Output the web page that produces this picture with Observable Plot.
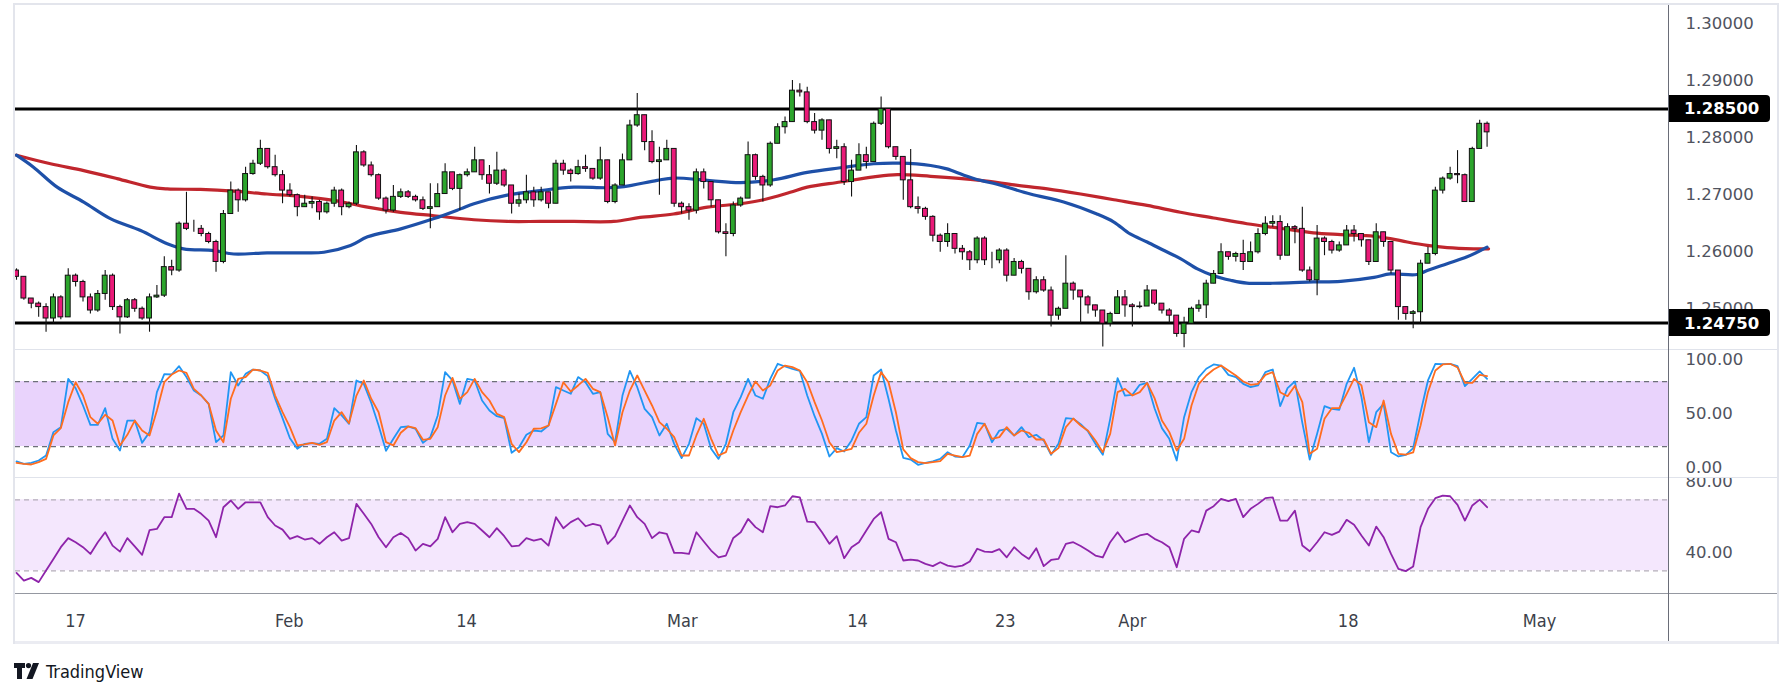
<!DOCTYPE html>
<html><head><meta charset="utf-8">
<script src="https://cdn.jsdelivr.net/npm/d3@7"></script>
<script src="https://cdn.jsdelivr.net/npm/@observablehq/plot@0.6"></script>
<style>
html,body{margin:0;padding:0;background:#fff;width:1791px;height:698px;overflow:hidden;}
#wrap{position:relative;width:1791px;height:698px;}
.pane{position:absolute;left:0;}
.ln{position:absolute;}
#logo{position:absolute;left:14px;top:659px;height:24px;display:flex;align-items:center;gap:6px;
 font-family:"DejaVu Sans Condensed","Liberation Sans Narrow",sans-serif;font-size:18px;color:#131722;}
</style></head><body><div id="wrap"></div>
<script>
// ---------- DATA ----------
const firstOpen = 1.2567;
const closes = [
1.2556,1.2518,1.2509,1.2503,1.2483,1.2520,1.2485,1.2558,1.2547,1.2520,
1.2497,1.2526,1.2558,1.2503,1.2485,1.2515,1.2500,1.2483,1.2520,1.2523,
1.2573,1.2567,1.2649,1.2640,1.2640,1.2631,1.2617,1.2582,1.2666,1.2707,
1.2690,1.2736,1.2754,1.2780,1.2748,1.2734,1.2707,1.2699,1.2678,1.2684,
1.2687,1.2669,1.2684,1.2707,1.2678,1.2684,1.2774,1.2751,1.2734,1.2693,
1.2672,1.2696,1.2704,1.2696,1.2690,1.2675,1.2678,1.2701,1.2739,1.2710,
1.2734,1.2739,1.2760,1.2734,1.2719,1.2742,1.2716,1.2684,1.2690,1.2704,
1.2690,1.2704,1.2684,1.2754,1.2742,1.2736,1.2748,1.2745,1.2728,1.2760,
1.2687,1.2716,1.2760,1.2821,1.2839,1.2792,1.2757,1.2760,1.2780,1.2684,
1.2678,1.2672,1.2739,1.2722,1.2690,1.2634,1.2631,1.2681,1.2693,1.2769,
1.2731,1.2716,1.2789,1.2818,1.2827,1.2882,1.2879,1.2827,1.2812,1.2830,
1.2780,1.2783,1.2722,1.2742,1.2769,1.2757,1.2824,1.2850,1.2783,1.2766,
1.2725,1.2678,1.2675,1.2661,1.2628,1.2617,1.2631,1.2605,1.2599,1.2585,
1.2623,1.2585,1.2585,1.2602,1.2558,1.2582,1.2570,1.2529,1.2550,1.2532,
1.2488,1.2500,1.2544,1.2532,1.2520,1.2506,1.2497,1.2474,1.2491,1.2520,
1.2506,1.2503,1.2504,1.2532,1.2509,1.2497,1.2488,1.2456,1.2474,1.2500,
1.2506,1.2544,1.2561,1.2599,1.2591,1.2596,1.2582,1.2599,1.2631,1.2649,
1.2652,1.2593,1.2643,1.2640,1.2567,1.2550,1.2623,1.2617,1.2602,1.2611,
1.2637,1.2631,1.2620,1.2582,1.2634,1.2617,1.2567,1.2503,1.2491,1.2494,
1.2579,1.2596,1.2707,1.2728,1.2736,1.2734,1.2687,1.2780,1.2824,1.2809];
const highs = [
1.2570,1.2556,1.2518,1.2512,1.2509,1.2526,1.2523,1.2570,1.2561,1.2550,
1.2526,1.2532,1.2567,1.2561,1.2506,1.2518,1.2518,1.2503,1.2526,1.2541,
1.2591,1.2585,1.2652,1.2704,1.2655,1.2646,1.2634,1.2620,1.2672,1.2722,
1.2710,1.2748,1.2760,1.2795,1.2780,1.2769,1.2742,1.2719,1.2701,1.2699,
1.2696,1.2690,1.2687,1.2713,1.2710,1.2687,1.2786,1.2777,1.2757,1.2736,
1.2696,1.2716,1.2710,1.2707,1.2699,1.2696,1.2719,1.2719,1.2754,1.2739,
1.2736,1.2745,1.2783,1.2757,1.2751,1.2774,1.2745,1.2716,1.2701,1.2734,
1.2713,1.2713,1.2701,1.2760,1.2760,1.2745,1.2760,1.2769,1.2745,1.2783,
1.2751,1.2719,1.2771,1.2830,1.2877,1.2824,1.2812,1.2783,1.2795,1.2777,
1.2687,1.2684,1.2745,1.2745,1.2713,1.2678,1.2649,1.2687,1.2696,1.2792,
1.2771,1.2734,1.2792,1.2824,1.2836,1.2900,1.2894,1.2888,1.2842,1.2833,
1.2818,1.2795,1.2789,1.2760,1.2789,1.2783,1.2827,1.2871,1.2847,1.2780,
1.2760,1.2779,1.2696,1.2678,1.2663,1.2631,1.2649,1.2626,1.2611,1.2602,
1.2626,1.2626,1.2599,1.2605,1.2605,1.2588,1.2585,1.2570,1.2556,1.2556,
1.2538,1.2503,1.2593,1.2547,1.2532,1.2523,1.2506,1.2491,1.2494,1.2532,
1.2532,1.2509,1.2512,1.2541,1.2523,1.2506,1.2500,1.2485,1.2485,1.2503,
1.2515,1.2550,1.2567,1.2614,1.2596,1.2599,1.2620,1.2617,1.2640,1.2661,
1.2663,1.2663,1.2649,1.2646,1.2678,1.2573,1.2646,1.2626,1.2620,1.2617,
1.2646,1.2646,1.2628,1.2620,1.2649,1.2631,1.2614,1.2567,1.2503,1.2497,
1.2585,1.2608,1.2713,1.2731,1.2748,1.2777,1.2736,1.2783,1.2830,1.2827];
const lows = [
1.2550,1.2515,1.2500,1.2485,1.2459,1.2474,1.2481,1.2485,1.2538,1.2512,
1.2491,1.2494,1.2515,1.2497,1.2456,1.2483,1.2494,1.2480,1.2459,1.2518,
1.2520,1.2558,1.2564,1.2637,1.2634,1.2626,1.2614,1.2564,1.2579,1.2666,
1.2669,1.2687,1.2734,1.2751,1.2745,1.2731,1.2684,1.2696,1.2661,1.2678,
1.2675,1.2655,1.2666,1.2678,1.2663,1.2675,1.2681,1.2748,1.2731,1.2690,
1.2666,1.2669,1.2693,1.2693,1.2687,1.2672,1.2640,1.2678,1.2701,1.2707,
1.2672,1.2731,1.2739,1.2725,1.2701,1.2716,1.2713,1.2666,1.2678,1.2684,
1.2678,1.2687,1.2675,1.2684,1.2734,1.2722,1.2734,1.2739,1.2725,1.2725,
1.2684,1.2684,1.2731,1.2760,1.2818,1.2777,1.2754,1.2699,1.2766,1.2678,
1.2666,1.2655,1.2666,1.2710,1.2678,1.2631,1.2591,1.2626,1.2678,1.2725,
1.2725,1.2687,1.2713,1.2798,1.2806,1.2827,1.2871,1.2824,1.2806,1.2795,
1.2771,1.2763,1.2716,1.2696,1.2742,1.2745,1.2780,1.2821,1.2780,1.2760,
1.2690,1.2675,1.2666,1.2655,1.2617,1.2599,1.2608,1.2596,1.2585,1.2567,
1.2579,1.2576,1.2570,1.2579,1.2547,1.2564,1.2561,1.2515,1.2526,1.2529,
1.2468,1.2480,1.2500,1.2515,1.2474,1.2491,1.2485,1.2433,1.2468,1.2497,
1.2485,1.2468,1.2500,1.2509,1.2506,1.2491,1.2474,1.2450,1.2432,1.2485,
1.2494,1.2483,1.2556,1.2567,1.2585,1.2582,1.2567,1.2591,1.2596,1.2628,
1.2643,1.2585,1.2593,1.2614,1.2564,1.2547,1.2523,1.2593,1.2596,1.2599,
1.2623,1.2617,1.2608,1.2576,1.2585,1.2608,1.2561,1.2480,1.2480,1.2465,
1.2474,1.2585,1.2593,1.2701,1.2725,1.2719,1.2687,1.2734,1.2783,1.2783];

const maFastIdx = [0,2.3,5.5,9.1,12.7,16.8,20.4,22.6,26.7,29.4,33.9,38.4,41.6,45.2,47.5,52,56.5,60.1,61.9,66.4,70.9,75.4,79.9,82.2,86.7,88.9,93.5,98,102.5,107,111.5,116,119.6,123.7,125.9,128.2,130.4,132.7,137.2,141.7,146.2,148.5,150.7,153,155.3,157.5,159.8,162,164.3,166.5,171,175.5,179.2,183.7,185.9,189.5,190.9,193.6,196.3,199];
const maFastVal = [1.2769,1.2748,1.2713,1.2687,1.2658,1.2637,1.2614,1.2605,1.2602,1.2596,1.2598,1.2598,1.2599,1.2611,1.2626,1.2640,1.2658,1.2675,1.2684,1.2699,1.2707,1.2713,1.2712,1.2714,1.2725,1.2729,1.2725,1.2721,1.2726,1.2739,1.2747,1.2754,1.2755,1.2751,1.2745,1.2734,1.2725,1.2718,1.2701,1.2687,1.2666,1.2652,1.2631,1.2617,1.2602,1.2588,1.2570,1.2558,1.2550,1.2545,1.2545,1.2547,1.2548,1.2555,1.2561,1.2560,1.2567,1.2579,1.2591,1.2608];
const maSlowIdx = [0,4.6,9.1,13.6,18.1,20.4,24.9,29.4,33.9,38.4,42.9,47.5,52,56.5,61.9,66.4,70.9,75.4,80.8,84.4,88.9,93.5,98,101.1,104.7,107,111.5,116,119.2,123.7,130.4,135,139.5,144,148.5,153,157.5,162,166.5,171,175.5,179.2,183.7,185.9,188.2,190.9,193.6,197.2,199.2];
const maSlowVal = [1.2769,1.2754,1.2742,1.2728,1.2713,1.2710,1.2709,1.2706,1.2701,1.2697,1.2690,1.2678,1.2669,1.2663,1.2656,1.2653,1.2653,1.2653,1.2653,1.2660,1.2666,1.2678,1.2684,1.2691,1.2704,1.2713,1.2722,1.2731,1.2735,1.2732,1.2725,1.2717,1.2710,1.2701,1.2691,1.2681,1.2669,1.2659,1.2649,1.2641,1.2633,1.2630,1.2627,1.2623,1.2617,1.2611,1.2607,1.2605,1.2605];

const stochK = [6.2,4.0,4.9,7.1,11.7,33.3,37.9,82.5,73.9,57.9,
40.0,40.0,55.4,27.1,16.3,44.0,44.0,23.4,33.3,70.2,
86.8,86.5,94.2,84.1,71.7,67.1,59.4,24.0,30.2,88.7,
76.4,87.1,91.1,90.2,85.0,64.1,46.2,27.7,17.9,22.5,
23.1,22.5,27.1,55.4,48.7,41.0,81.0,77.9,60.4,39.4,
16.0,27.1,37.9,38.5,36.4,23.4,28.7,48.7,88.7,81.0,
59.4,82.5,81.0,62.5,53.3,48.0,46.2,14.2,19.4,30.8,
34.8,33.9,39.4,74.8,71.7,68.7,84.1,79.4,68.7,70.2,
31.7,24.0,67.1,89.9,74.8,54.8,47.1,30.2,41.0,22.5,
9.3,22.5,46.2,41.0,17.9,8.6,22.5,51.7,65.6,82.5,
67.1,64.1,82.5,96.4,93.9,91.8,89.9,67.1,48.0,31.7,
10.8,18.5,15.4,25.6,41.0,47.1,85.6,91.1,64.1,34.8,
9.6,8.0,3.1,4.9,6.2,8.6,14.8,10.8,10.2,21.0,
41.9,41.0,24.0,34.8,36.4,30.2,37.9,28.7,30.8,25.6,
12.3,22.5,46.2,45.6,40.7,33.9,22.5,12.3,45.6,83.1,
67.1,67.7,77.0,78.8,55.4,37.0,27.1,7.1,47.1,70.2,
84.1,91.8,95.8,94.8,86.2,84.1,77.9,74.8,76.4,88.7,
91.1,57.3,73.9,80.1,41.9,8.0,31.7,57.3,54.8,53.9,
77.9,92.7,65.6,24.0,51.7,59.4,14.8,10.8,12.3,18.5,
51.7,81.0,96.4,96.1,96.4,94.2,75.8,82.5,89.3,82.5];
const stochD = [4.9,4.0,3.4,5.6,8.6,30.2,37.0,61.0,79.4,67.1,
47.1,41.0,49.3,44.0,21.0,30.8,44.0,34.8,30.2,53.3,
79.4,86.5,90.2,88.1,73.3,67.1,59.4,34.8,24.0,64.1,
82.5,84.1,91.1,90.2,88.1,67.1,51.7,37.9,21.0,21.9,
23.4,21.6,24.0,44.0,51.7,41.6,67.1,81.0,64.1,51.7,
24.0,21.0,32.7,38.5,37.0,26.2,27.1,37.9,67.1,83.4,
64.1,70.2,82.5,70.2,62.5,50.2,47.1,22.5,14.8,24.0,
36.4,36.7,39.4,59.4,79.4,70.8,76.4,82.5,73.3,70.2,
47.1,21.0,51.7,71.7,85.6,71.7,57.9,42.5,36.4,28.7,
11.7,11.7,30.2,45.6,27.1,11.7,14.8,34.8,51.7,67.1,
80.1,71.7,76.4,90.2,94.8,93.3,90.2,79.4,61.0,44.0,
24.0,14.8,16.3,17.9,32.7,41.0,67.1,88.7,79.4,51.7,
17.3,9.3,5.6,4.6,5.6,6.5,13.3,11.7,10.2,11.7,
31.7,41.0,27.1,28.7,37.9,30.2,34.8,32.7,26.5,26.5,
13.3,18.5,37.9,45.9,39.4,34.5,25.6,14.8,31.7,70.2,
73.3,67.1,70.2,78.8,64.7,44.0,33.3,16.3,27.1,57.9,
77.9,85.6,91.1,94.8,90.2,85.6,80.1,77.0,77.9,86.2,
88.7,70.2,66.5,76.1,61.0,13.3,17.9,45.6,55.4,55.4,
68.7,82.5,76.4,42.5,37.9,62.5,31.7,13.3,12.6,14.5,
39.4,70.2,90.2,95.8,96.4,93.0,78.8,78.8,86.2,85.0];
const rsi = [28.8,24.5,26.0,23.6,30.2,36.7,43.3,48.4,46.1,43.3,
39.5,46.1,51.7,44.2,40.8,48.4,43.7,39.0,52.9,53.6,
60.2,60.2,73.5,64.9,64.9,62.1,58.3,48.9,65.8,69.6,
64.9,68.6,68.6,68.6,60.2,55.5,53.2,48.0,49.5,47.6,
48.4,45.2,48.9,51.7,47.0,48.4,67.7,62.1,56.4,48.9,
43.3,48.9,51.3,48.4,41.4,45.2,43.8,48.0,60.2,51.7,
56.4,57.4,56.4,52.7,48.9,54.0,49.5,43.8,44.2,48.4,
47.0,48.0,44.2,60.2,54.0,57.4,59.6,55.1,56.4,55.5,
45.2,49.5,58.3,66.8,60.2,56.4,48.4,51.7,50.8,40.1,
40.1,39.5,51.7,46.5,41.4,37.6,38.6,48.5,51.7,59.2,
54.6,51.7,66.4,65.8,66.8,72.0,71.4,57.7,57.4,51.7,
45.2,49.5,37.1,43.3,46.1,52.7,59.2,63.0,48.0,46.1,
35.8,36.3,35.8,33.9,32.6,34.8,32.9,32.2,32.9,35.2,
42.4,40.8,40.5,42.2,37.6,43.3,39.5,36.7,42.7,32.6,
36.1,36.7,45.2,46.1,44.0,41.4,38.6,37.5,46.1,51.7,
46.1,48.0,49.9,50.8,48.0,46.1,43.3,32.0,48.0,52.7,
51.7,63.9,66.4,70.5,69.2,70.5,60.2,64.9,67.7,70.9,
71.4,58.3,58.3,63.9,44.2,41.0,46.1,51.7,50.2,52.1,
58.7,56.0,49.9,44.2,54.9,48.9,39.5,31.1,29.8,32.4,
54.6,64.9,70.9,72.4,72.0,67.1,58.3,66.8,70.1,65.8];

const levels = [1.2850, 1.2475];
const priceTicks = [1.25, 1.26, 1.27, 1.28, 1.29, 1.30];
const stochTicks = [0, 50, 100];
const stochBand = [20, 80];
const rsiTicks = [40, 80];
const rsiBand = [30, 70];
const timeTickIdx = [8.0, 36.9, 60.9, 90.1, 113.8, 133.8, 151.0, 180.2, 206.1];
const timeTickLabels = ["17", "Feb", "14", "Mar", "14", "23", "Apr", "18", "May"];

// ---------- BUILD ----------
const candles = closes.map((c, i) => {
  const o = i ? closes[i - 1] : firstOpen;
  return {i, o, c, h: Math.max(highs[i], o, c), l: Math.min(lows[i], o, c)};
});
const maFast = maFastIdx.map((x, k) => ({x, v: maFastVal[k]}));
const maSlow = maSlowIdx.map((x, k) => ({x, v: maSlowVal[k]}));
const osc = closes.map((_, i) => ({i, k: stochK[i], d: stochD[i], r: rsi[i]}));
const tickLabel = new Map(timeTickIdx.map((t, k) => [t, timeTickLabels[k]]));

const W = 1791, ML = 15, MR = 123;
const xDom = [-0.135, 223.55];
const axisFont = "'DejaVu Sans', sans-serif";
const narrowFont = "'DejaVu Sans Condensed','Liberation Sans Narrow',sans-serif";
const txtCol = "#50535e";
const wrap = document.getElementById("wrap");

function place(svg, top) {
  svg.classList.add("pane");
  svg.style.top = top + "px";
  wrap.appendChild(svg);
  return svg;
}
const baseStyle = {background: "transparent", fontFamily: axisFont, fontSize: "16.5px", color: txtCol, overflow: "visible"};

// Main price pane
const main = Plot.plot({
  width: W, height: 349, marginTop: 4, marginBottom: 0, marginLeft: ML, marginRight: MR,
  style: baseStyle,
  x: {domain: xDom, axis: null},
  y: {domain: [1.242872, 1.303292], axis: null},
  marks: [
    Plot.axisY({anchor: "right", ticks: priceTicks, tickFormat: d => d.toFixed(5), tickSize: 0, tickPadding: 17, fill: txtCol, label: null}),
    Plot.ruleY(levels, {stroke: "#000", strokeWidth: 3}),
    Plot.line(maSlow, {x: "x", y: "v", stroke: "#c0262d", strokeWidth: 3.2, curve: "catmull-rom"}),
    Plot.line(maFast, {x: "x", y: "v", stroke: "#1e50a8", strokeWidth: 3.2, curve: "catmull-rom"}),
    Plot.ruleX(candles, {x: "i", y1: "l", y2: "h", stroke: "#111", strokeWidth: 1.1}),
    Plot.rect(candles, {x1: d => d.i - 0.33, x2: d => d.i + 0.33, y1: "o", y2: "c",
      fill: d => d.c >= d.o ? "#2ca52c" : "#ea1a78", stroke: "#111", strokeWidth: 1})
  ]
});
place(main, 0);
{
  const y = main.scale("y"), x = main.scale("x");
  const sel = d3.select(main);
  const x0 = x.apply(xDom[1]);
  for (const v of levels) {
    const yy = y.apply(v);
    sel.append("path").attr("d", `M${x0},${yy - 13.5}h98a4,4 0 0 1 4,4v19a4,4 0 0 1 -4,4h-98z`).attr("fill", "#000");
    sel.append("text").attr("x", x0 + 16).attr("y", yy).attr("dy", "0.36em").attr("text-anchor", "start")
      .attr("fill", "#fff").attr("font-size", 16.5).attr("font-weight", 600).attr("font-family", axisFont).text(v.toFixed(5));
  }
}

// Stochastic pane
const stoch = Plot.plot({
  width: W, height: 128, marginTop: 0, marginBottom: 0, marginLeft: ML, marginRight: MR,
  style: baseStyle,
  x: {domain: xDom, axis: null},
  y: {domain: [-8.6, 109.6], axis: null},
  marks: [
    Plot.rect([stochBand], {y1: d => d[0], y2: d => d[1], fill: "#e9d3fc"}),
    Plot.ruleY(stochBand, {stroke: "#6e7079", strokeWidth: 1.2, strokeDasharray: "5,4"}),
    Plot.axisY({anchor: "right", ticks: stochTicks, tickFormat: d => d.toFixed(2), tickSize: 0, tickPadding: 17, fill: txtCol, label: null}),
    Plot.line(osc, {x: "i", y: "k", stroke: "#2196f3", strokeWidth: 1.8}),
    Plot.line(osc, {x: "i", y: "d", stroke: "#ff6d1f", strokeWidth: 1.8})
  ]
});
place(stoch, 349);

// RSI pane + time axis
const rsiPlot = Plot.plot({
  width: W, height: 165, marginTop: 0, marginBottom: 49, marginLeft: ML, marginRight: MR,
  style: {...baseStyle, overflow: "hidden"},
  x: {domain: xDom, axis: null},
  y: {domain: [17.2, 82.56], axis: null},
  marks: [
    Plot.rect([rsiBand], {y1: d => d[0], y2: d => d[1], fill: "#f4e7fd"}),
    Plot.ruleY(rsiBand, {stroke: "#b4adb9", strokeWidth: 1.2, strokeDasharray: "5,4"}),
    Plot.axisY({anchor: "right", ticks: rsiTicks, tickFormat: d => d.toFixed(2), tickSize: 0, tickPadding: 17, fill: txtCol, label: null}),
    Plot.line(osc, {x: "i", y: "r", stroke: "#8e24aa", strokeWidth: 1.8}),
    Plot.axisX({anchor: "bottom", ticks: timeTickIdx, tickFormat: d => tickLabel.get(d), tickSize: 0, tickPadding: 21,
      fontSize: 18, fontFamily: narrowFont, fill: "#3c3f4a", label: null})
  ]
});
place(rsiPlot, 477);

// Frame lines
function line(x, y, w, h, c) {
  const d = document.createElement("div");
  d.className = "ln";
  Object.assign(d.style, {left: x + "px", top: y + "px", width: w + "px", height: h + "px", background: c});
  wrap.appendChild(d);
}
line(13, 3, 1766, 2, "#e3e5ec");
line(13, 641, 1766, 3, "#ebecf2");
line(13, 3, 2, 641, "#e3e5ec");
line(1777, 3, 2, 641, "#e3e5ec");
line(15, 349, 1762, 1, "#e0e3eb");
line(15, 477, 1762, 1, "#e0e3eb");
line(15, 593, 1762, 1, "#9598a1");
line(1668, 5, 1, 636, "#6a6d78");

// Logo
const logo = document.createElement("div");
logo.id = "logo";
logo.innerHTML = `<svg width="26" height="16" viewBox="0 0 26 16"><path d="M0 0h11v5H8v11H3V5H0z" fill="#131722"/><circle cx="14.5" cy="2.6" r="2.6" fill="#131722"/><path d="M19 0h6l-6.5 16h-6z" fill="#131722"/></svg><span>TradingView</span>`;
wrap.appendChild(logo);
</script></body></html>
